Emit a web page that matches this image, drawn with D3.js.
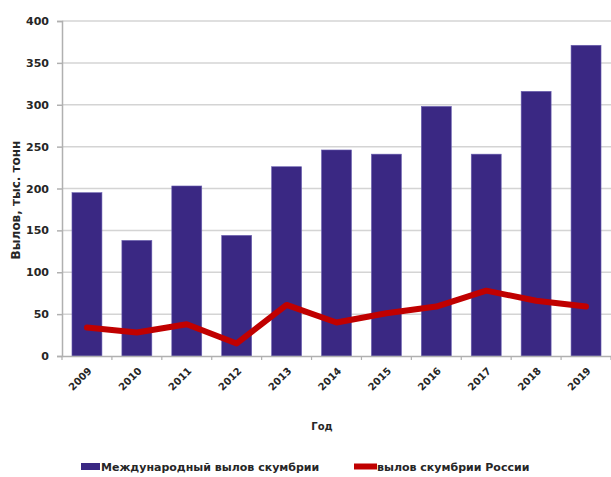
<!DOCTYPE html>
<html>
<head>
<meta charset="utf-8">
<script src="https://cdn.jsdelivr.net/npm/d3@7"></script>
<style>
body { margin: 0; background: #fff; }
text { font-family: "DejaVu Sans", Verdana, sans-serif; font-weight: bold; fill: #262626; }
</style>
</head>
<body>
<script>
// Years on the x axis
var years = ["2009","2010","2011","2012","2013","2014","2015","2016","2017","2018","2019"];

// International mackerel catch (bars), thousand tonnes
var world_catch = [195, 138, 203, 144, 226, 246, 241, 298, 241, 316, 371];

// Russian mackerel catch (line), thousand tonnes
var russia_catch = [34, 28, 38, 15, 61, 40, 51, 59, 78, 66, 59];

// Y axis ticks
var y_ticks = [0, 50, 100, 150, 200, 250, 300, 350, 400];

var width = 611, height = 477;
var plot = {left: 62, right: 611, top: 21, bottom: 356};

var svg = d3.select("body").append("svg").attr("width", width).attr("height", height);

var x = d3.scaleBand().domain(years).range([plot.left, plot.right]).paddingInner(0.4).paddingOuter(0.2);
var y = d3.scaleLinear().domain([0, 400]).range([plot.bottom, plot.top]);

// gridlines
svg.selectAll(".grid").data(y_ticks.slice(1)).enter()
    .append("line")
    .attr("x1", plot.left).attr("x2", plot.right)
    .attr("y1", function(d){ return y(d); }).attr("y2", function(d){ return y(d); })
    .style("stroke", "#d4d4d4").style("stroke-width", 1.5);

// y axis
var yAxis = svg.append("g").attr("transform", "translate(" + plot.left + ",0)")
    .call(d3.axisLeft(y).tickValues(y_ticks).tickSize(5).tickPadding(8));
yAxis.select(".domain").style("stroke", "#b0b0b0").style("stroke-width", 1.5);
yAxis.selectAll(".tick line").style("stroke", "#b0b0b0").style("stroke-width", 1.5);
yAxis.selectAll("text").style("font-size", "11px").style("font-family", null).style("fill", "#262626");

// bars
svg.selectAll(".bar").data(years).enter()
    .append("rect")
    .attr("x", function(d){ return x(d); })
    .attr("y", function(d, i){ return y(world_catch[i]); })
    .attr("width", x.bandwidth())
    .attr("height", function(d, i){ return y(0) - y(world_catch[i]); })
    .style("fill", "#3a2883")
    .style("stroke", "#6a5fb0").style("stroke-width", 0.6);

// x axis
var xAxis = svg.append("g").attr("transform", "translate(0," + plot.bottom + ")")
    .call(d3.axisBottom(x).tickSize(0).tickPadding(0));
xAxis.select(".domain").style("stroke", "#b0b0b0").style("stroke-width", 1.5);
xAxis.selectAll("text")
    .style("font-size", "10px").style("font-family", null).style("fill", "#262626")
    .attr("text-anchor", "end")
    .attr("x", 0).attr("y", 0).attr("dy", "0.35em")
    .attr("transform", "translate(3,13) rotate(-45)");

// small ticks between categories
var step = x.step();
svg.selectAll(".xtick").data(d3.range(years.length + 1)).enter()
    .append("line")
    .attr("x1", function(d){ return plot.left + d * step; })
    .attr("x2", function(d){ return plot.left + d * step; })
    .attr("y1", plot.bottom).attr("y2", plot.bottom + 4)
    .style("stroke", "#b0b0b0").style("stroke-width", 1.2);

// line
var line = d3.line()
    .x(function(d, i){ return x(years[i]) + x.bandwidth() / 2; })
    .y(function(d){ return y(d); });
svg.append("path").datum(russia_catch)
    .attr("d", line)
    .style("fill", "none").style("stroke", "#c00000")
    .style("stroke-width", 6).style("stroke-linejoin", "round").style("stroke-linecap", "round");

// axis titles
svg.append("text").attr("transform", "translate(20,200) rotate(-90)")
    .attr("text-anchor", "middle").style("font-size", "12px").text("Вылов, тыс. тонн");
svg.append("text").attr("x", 322).attr("y", 430)
    .attr("text-anchor", "middle").style("font-size", "10px").text("Год");

// legend
var legend = svg.append("g");
legend.append("rect").attr("x", 81).attr("y", 463).attr("width", 19).attr("height", 7).style("fill", "#3a2883");
legend.append("text").attr("x", 101).attr("y", 471).style("font-size", "11px").text("Международный вылов скумбрии");
legend.append("line").attr("x1", 354).attr("x2", 377).attr("y1", 466.5).attr("y2", 466.5)
    .style("stroke", "#c00000").style("stroke-width", 6);
legend.append("text").attr("x", 377).attr("y", 471).style("font-size", "11px").text("вылов скумбрии России");
</script>
</body>
</html>
